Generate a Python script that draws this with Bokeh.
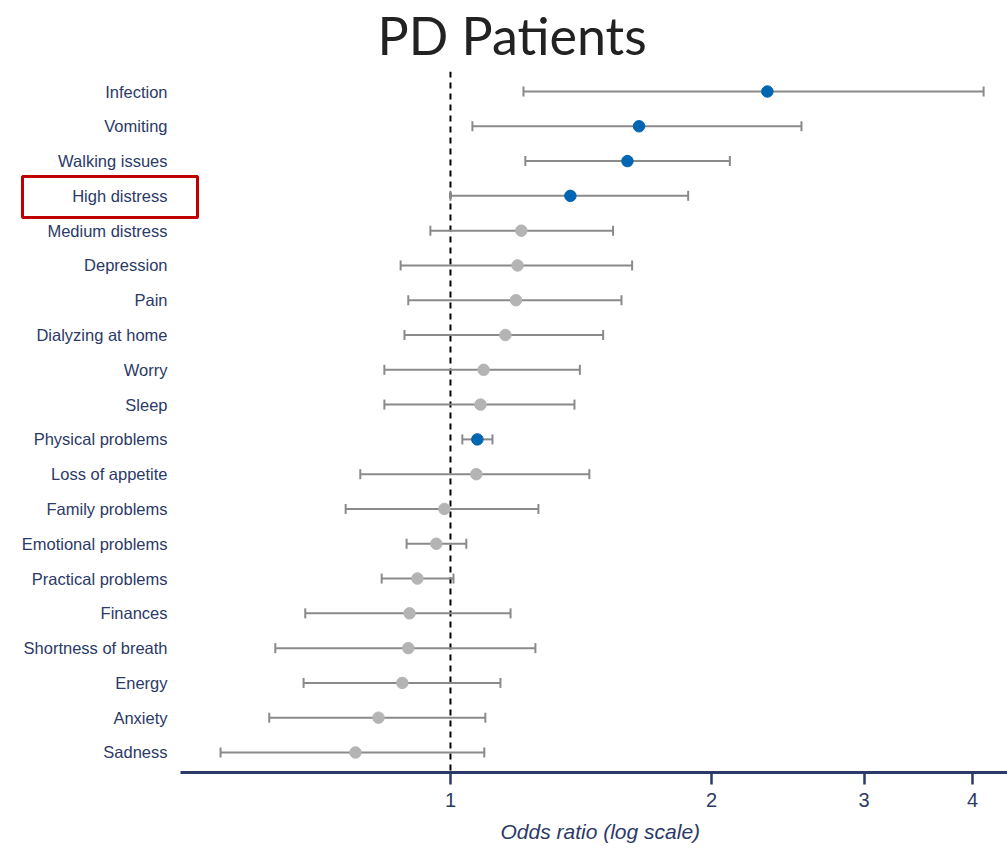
from bokeh.plotting import figure
from bokeh.models import (ColumnDataSource, FactorRange, Range1d, Whisker, TeeHead,
                          Span, BoxAnnotation, FixedTicker, Title)
from bokeh.core.properties import value
from bokeh.embed import file_html
from bokeh.resources import INLINE

labels = ["Infection", "Vomiting", "Walking issues", "High distress", "Medium distress",
          "Depression", "Pain", "Dialyzing at home", "Worry", "Sleep",
          "Physical problems", "Loss of appetite", "Family problems", "Emotional problems",
          "Practical problems", "Finances", "Shortness of breath", "Energy", "Anxiety", "Sadness"]
odds = [2.32, 1.65, 1.60, 1.375, 1.207, 1.195, 1.19, 1.157, 1.092, 1.083,
        1.074, 1.071, 0.984, 0.963, 0.916, 0.897, 0.894, 0.880, 0.826, 0.777]
lower = [1.214, 1.06, 1.22, 1.0, 0.948, 0.876, 0.894, 0.885, 0.839, 0.839,
         1.032, 0.787, 0.757, 0.890, 0.833, 0.680, 0.628, 0.677, 0.618, 0.543]
upper = [4.12, 2.54, 2.10, 1.88, 1.54, 1.62, 1.575, 1.50, 1.41, 1.39,
         1.118, 1.446, 1.263, 1.043, 1.008, 1.173, 1.253, 1.142, 1.097, 1.094]
significant = [True, True, True, True, False, False, False, False, False, False,
               True, False, False, False, False, False, False, False, False, False]
x_ticks = [1, 2, 3, 4]

NAVY = "#2b3a67"
BLUE = "#0066b2"
GREY_PT = "#b4b4b4"
GREY_BAR = "#8a8a8a"

# layout (pixels) -> data extents on the log axis
X_MIN, X_MAX = 0.3027, 4.39        # whole canvas width
AXIS_START = 0.4883                # where the drawn axis begins
LABEL_X = 0.4717                   # right edge of the category labels

colors = [BLUE if s else GREY_PT for s in significant]
src = ColumnDataSource(dict(label=labels, odds=odds, lower=lower, upper=upper, color=colors,
                            lx=[LABEL_X] * len(labels)))

p = figure(width=1007, height=852, output_backend="svg", toolbar_location=None,
           x_axis_type="log", y_axis_location=None,
           x_range=Range1d(X_MIN, X_MAX),
           y_range=FactorRange(factors=labels[::-1], range_padding=0.075,
                               range_padding_units="absolute"),
           min_border_left=0, min_border_right=0, min_border_top=71, min_border_bottom=80)
p.outline_line_color = None
p.xgrid.visible = False
p.ygrid.visible = False

p.title.text = "PD Patients"
p.title.align = "left"
p.title.offset = 377
p.title.vertical_align = "top"
p.title.text_font = "Lato"
p.title.text_font_style = "normal"
p.title.text_font_size = "52px"
p.title.text_color = "#222222"
p.title.standoff = 7

span = Span(location=1, dimension="height", line_color="black", line_dash="6 5", line_width=2,
            level="underlay")
p.add_layout(span)

wh = Whisker(base="label", lower="lower", upper="upper", dimension="width", source=src,
             line_color=GREY_BAR, line_width=2, level="underlay",
             upper_head=TeeHead(size=10, line_color=GREY_BAR, line_width=2),
             lower_head=TeeHead(size=10, line_color=GREY_BAR, line_width=2))
p.add_layout(wh)

p.scatter(x="odds", y="label", source=src, size=11.5, fill_color="color", line_color="color")

p.text(x="lx", y="label", text="label", source=src, text_align="right",
       text_baseline="middle", text_font=value("Liberation Sans"),
       text_font_size="16.5px", text_color=NAVY)

xa = p.xaxis[0]
xa.bounds = (AXIS_START, X_MAX)
xa.ticker = FixedTicker(ticks=x_ticks)
xa.axis_line_color = NAVY
xa.axis_line_width = 3
xa.major_tick_line_color = NAVY
xa.major_tick_line_width = 2.5
xa.major_tick_in = 0
xa.major_tick_out = 12
xa.minor_tick_line_color = None
xa.major_label_text_color = NAVY
xa.major_label_text_font = "Liberation Sans"
xa.major_label_text_font_size = "20px"
xa.major_label_standoff = 8

p.add_layout(Title(text="Odds ratio (log scale)", align="left", offset=500,
                   text_font="Liberation Sans", text_font_style="italic",
                   text_font_size="21px", text_color=NAVY, standoff=16), "below")

p.add_layout(BoxAnnotation(left=22, right=197, top=596, bottom=555,
                           left_units="screen", right_units="screen",
                           top_units="screen", bottom_units="screen",
                           fill_alpha=0, line_color="#c00000", line_alpha=1.0, line_width=3))

open("out.html", "w").write(file_html(p, INLINE))
